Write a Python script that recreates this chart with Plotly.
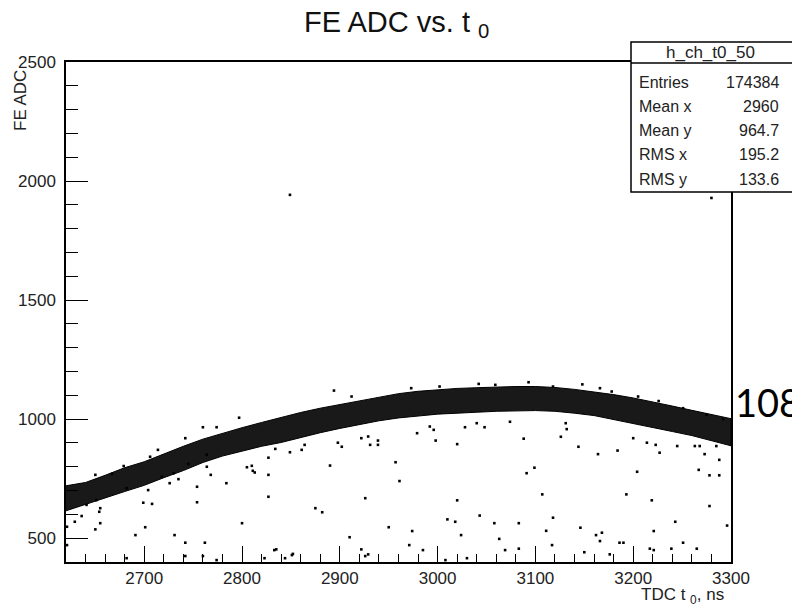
import plotly.graph_objects as go

# Dense ridge of the main population: lower / upper ADC edge every 20 ns
band_t0 = [2620, 2640, 2660, 2680, 2700, 2720, 2740, 2760, 2780, 2800,
           2820, 2840, 2860, 2880, 2900, 2920, 2940, 2960, 2980, 3000,
           3020, 3040, 3060, 3080, 3100, 3120, 3140, 3160, 3180, 3200,
           3220, 3240, 3260, 3280, 3300]
band_adc_low = [615, 642, 670, 696, 722, 754, 784, 818, 845, 866,
                886, 902, 922, 943, 961, 978, 993, 1005, 1013, 1021,
                1025, 1029, 1033, 1035, 1036, 1033, 1025, 1015, 1001, 983,
                965, 948, 931, 911, 888]
band_adc_high = [720, 734, 764, 796, 821, 854, 886, 916, 941, 964,
                 986, 1008, 1028, 1046, 1061, 1076, 1092, 1107, 1117, 1124,
                 1129, 1132, 1135, 1137, 1137, 1133, 1125, 1115, 1103, 1089,
                 1073, 1055, 1037, 1019, 1002]

# Events scattered just outside the ridge
fringe_t0 = [2650, 2667, 2679, 2706, 2714, 2742, 2760, 2774, 2641, 2651,
             2682, 2704, 2718, 2730, 2735, 2745, 2764, 2797, 2894, 2912,
             2973, 3002, 3042, 3059, 3093, 3118, 3148, 3166, 3178, 3205,
             3226, 3251, 3275, 3292]
fringe_adc = [766, 770, 803, 842, 871, 920, 966, 966, 640, 660,
              710, 702, 758, 773, 748, 812, 850, 1006, 1120, 1095,
              1130, 1137, 1148, 1144, 1155, 1137, 1146, 1130, 1116, 1095,
              1076, 1046, 1018, 1000]

# Isolated low-amplitude events
sparse_t0 = [2629, 2621, 2650, 2655, 2654, 2655, 2636, 2691, 2701, 2699,
             2708, 2731, 2742, 2762, 2754, 2754, 2764, 2768, 2784, 2726,
             2682, 2742, 2760, 2774, 2621,
             2800, 2805, 2810, 2811, 2813, 2827, 2827, 2827, 2834, 2849,
             2861, 2864, 2890, 2898, 2902, 2875, 2882, 2926, 2957, 2961,
             2950, 2910, 2922, 2926, 2929, 2833, 2823, 2844, 2851, 2939,
             2939, 2931, 2922, 2929,
             2974, 2971, 2985, 2979, 2998, 3020, 3020, 3010, 3018, 3024,
             3043, 3058, 3063, 3069, 3083, 3083, 3008, 3030, 3091, 3099,
             3088, 3107, 3111, 3118, 3117, 3126, 3131, 3132, 3028, 3040,
             3048, 3074, 2996, 2992,
             3144, 3164, 3184, 3204, 3193, 3219, 3227, 3243, 3221, 3146,
             3162, 3168, 3166, 3186, 3190, 3150, 3176, 3217, 3221, 3239,
             3251, 3265, 3278, 3288, 3278, 3267, 3273, 3288, 3296, 3245,
             3263, 3268, 3285, 3214, 3223, 3200,
             2849, 3280, 2835, 2852]
sparse_adc = [569, 548, 537, 563, 611, 626, 593, 513, 546, 649,
              644, 513, 481, 481, 716, 651, 800, 766, 731, 731,
              416, 425, 425, 408, 471,
              563, 798, 804, 783, 776, 766, 674, 838, 875, 861,
              871, 892, 805, 901, 884, 626, 609, 668, 819, 740,
              546, 504, 453, 425, 432, 450, 416, 416, 429, 910,
              892, 892, 920, 927,
              530, 471, 450, 941, 910, 895, 659, 579, 569, 513,
              595, 563, 497, 450, 563, 456, 408, 416, 773, 796,
              918, 684, 531, 586, 471, 926, 983, 958, 966, 983,
              966, 989, 955, 969,
              884, 853, 868, 779, 684, 659, 859, 569, 530, 544,
              513, 523, 488, 481, 481, 441, 432, 456, 450, 456,
              481, 456, 635, 764, 764, 787, 853, 829, 553, 887,
              887, 887, 887, 901, 892, 920,
              1942, 1929, 453, 434]

# Statistics box contents
stats_name = "h_ch_t0_50"
stats_labels = ["Entries", "Mean x", "Mean y", "RMS x", "RMS y"]
stats_values = ["174384", "2960", "964.7", "195.2", "133.6"]

W, H = 792, 610
L, R, T, B = 66, 61, 62, 48
PW, PH = W - L - R, H - T - B
FONT = "Liberation Sans, Arial, Helvetica, sans-serif"


def px(x):
    return (x - L) / PW


def py(y):
    return (H - B - y) / PH


fig = go.Figure()

fig.add_trace(go.Scatter(
    x=band_t0 + band_t0[::-1],
    y=band_adc_high + band_adc_low[::-1],
    fill="toself", fillcolor="rgba(0,0,0,0.9)",
    line=dict(color="black", width=1),
    mode="lines", hoverinfo="skip", showlegend=False,
))
fig.add_trace(go.Scatter(
    x=fringe_t0 + sparse_t0, y=fringe_adc + sparse_adc,
    mode="markers",
    marker=dict(symbol="square", size=2.6, color="black", line=dict(width=0)),
    showlegend=False,
))

axis_common = dict(
    showgrid=False, zeroline=False, showline=True, mirror=True,
    linecolor="black", linewidth=1.5, ticks="inside", tickwidth=1.2,
    tickcolor="black", tickfont=dict(family=FONT, size=17, color="#222"),
)
fig.update_xaxes(range=[2620, 3300], dtick=100, tick0=2600, ticklen=16,
                 minor=dict(ticks="inside", dtick=20, ticklen=8,
                            tickwidth=1.2, tickcolor="black"),
                 **axis_common)
fig.update_yaxes(range=[400, 2500], dtick=500, tick0=0, ticklen=22,
                 ticklabelstandoff=5,
                 minor=dict(ticks="inside", dtick=100, ticklen=12,
                            tickwidth=1.2, tickcolor="black"),
                 **axis_common)

annotations = [
    dict(text="FE ADC vs. t <sub>0</sub>", x=px(396), y=py(24),
         xanchor="center", yanchor="middle",
         font=dict(family=FONT, size=29, color="#111")),
    dict(text="FE ADC", x=px(21), y=py(101), textangle=-90,
         xanchor="center", yanchor="middle",
         font=dict(family=FONT, size=17, color="#222")),
    dict(text="TDC t <sub>0</sub>, ns", x=px(726), y=py(596),
         xanchor="right", yanchor="middle",
         font=dict(family=FONT, size=17, color="#222")),
    dict(text="108", x=px(733), y=py(402), xanchor="left", yanchor="middle",
         font=dict(family="Lato, Open Sans, sans-serif", size=38, color="black")),
    dict(text=stats_name, x=px(710), y=py(53), xanchor="center",
         yanchor="middle", font=dict(family=FONT, size=17, color="#222")),
]
for i, (lab, val) in enumerate(zip(stats_labels, stats_values)):
    yy = py(82 + 24.3 * i)
    annotations.append(dict(text=lab, x=px(637), y=yy, xanchor="left",
                            yanchor="middle",
                            font=dict(family=FONT, size=16, color="#222")))
    annotations.append(dict(text=val, x=px(781), y=yy, xanchor="right",
                            yanchor="middle",
                            font=dict(family=FONT, size=16, color="#222")))
for a in annotations:
    a.update(xref="paper", yref="paper", showarrow=False)

shapes = [
    dict(type="rect", xref="paper", yref="paper",
         x0=px(631), x1=px(800), y0=py(192), y1=py(42),
         line=dict(color="black", width=1.5), fillcolor="white", layer="above"),
    dict(type="line", xref="paper", yref="paper",
         x0=px(631), x1=px(800), y0=py(63), y1=py(63),
         line=dict(color="black", width=1.5), layer="above"),
]

fig.update_layout(
    width=W, height=H,
    margin=dict(l=L, r=R, t=T, b=B, pad=0),
    paper_bgcolor="white", plot_bgcolor="white",
    annotations=annotations, shapes=shapes,
    showlegend=False,
)

fig.write_html("out.html")
